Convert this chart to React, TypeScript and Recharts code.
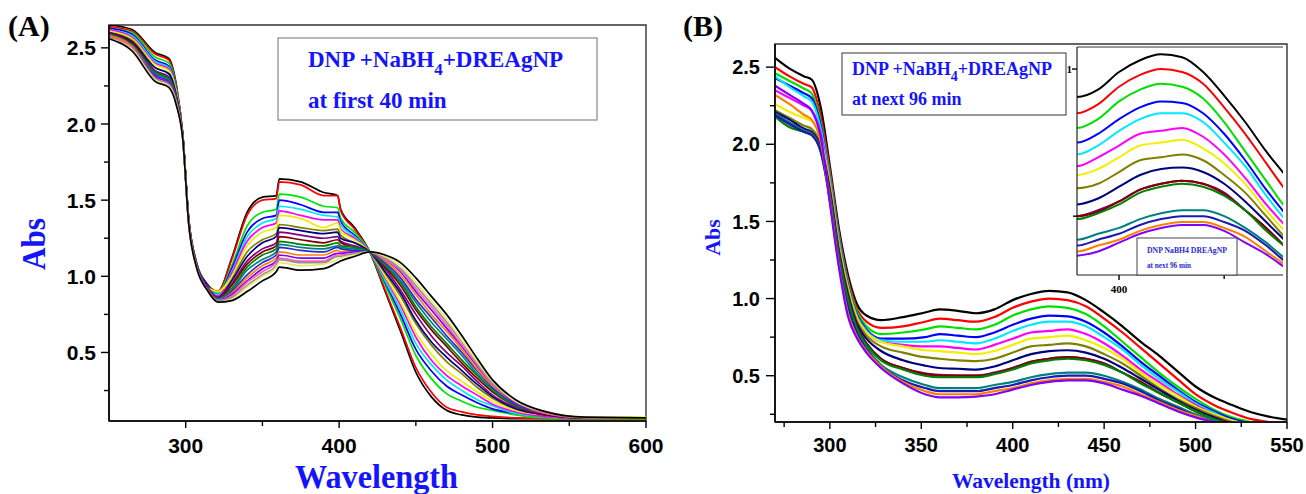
import { LineChart, Line, XAxis, YAxis, ReferenceArea, ReferenceLine } from 'recharts';

// ---------- Panel A: first 40 min ----------
const WAVELENGTH_A = [250, 265, 280, 289, 294, 298, 302, 307, 314, 321, 330, 340, 350, 359, 361, 375, 390, 399, 401, 410, 420, 430, 440, 450, 460, 470, 480, 490, 500, 515, 535, 560, 600];

const A_T01 = [2.65, 2.62, 2.47, 2.43, 2.25, 1.94, 1.37, 1.09, 0.95, 0.90, 1.12, 1.42, 1.52, 1.53, 1.64, 1.62, 1.55, 1.53, 1.44, 1.32, 1.16, 0.90, 0.64, 0.37, 0.21, 0.12, 0.09, 0.075, 0.07, 0.065, 0.065, 0.065, 0.065];
const A_T02 = [2.64, 2.61, 2.46, 2.42, 2.24, 1.94, 1.37, 1.09, 0.94, 0.90, 1.11, 1.40, 1.50, 1.51, 1.62, 1.60, 1.53, 1.53, 1.43, 1.31, 1.16, 0.91, 0.66, 0.40, 0.24, 0.14, 0.11, 0.09, 0.08, 0.07, 0.067, 0.065, 0.065];
const A_T03 = [2.63, 2.60, 2.44, 2.40, 2.23, 1.94, 1.37, 1.09, 0.94, 0.89, 1.07, 1.33, 1.42, 1.44, 1.54, 1.52, 1.46, 1.45, 1.38, 1.29, 1.16, 0.94, 0.72, 0.48, 0.33, 0.23, 0.18, 0.14, 0.12, 0.09, 0.07, 0.067, 0.066];
const A_T04 = [2.63, 2.59, 2.42, 2.38, 2.22, 1.94, 1.37, 1.09, 0.94, 0.88, 1.05, 1.29, 1.38, 1.40, 1.50, 1.47, 1.42, 1.42, 1.36, 1.27, 1.16, 0.96, 0.75, 0.52, 0.38, 0.28, 0.22, 0.17, 0.13, 0.10, 0.08, 0.07, 0.07];
const A_T05 = [2.62, 2.58, 2.41, 2.37, 2.21, 1.93, 1.36, 1.08, 0.93, 0.88, 1.03, 1.26, 1.35, 1.38, 1.46, 1.44, 1.40, 1.39, 1.34, 1.26, 1.16, 0.97, 0.78, 0.56, 0.42, 0.32, 0.25, 0.19, 0.15, 0.10, 0.08, 0.07, 0.07];
const A_T06 = [2.62, 2.57, 2.40, 2.36, 2.20, 1.93, 1.36, 1.08, 0.93, 0.87, 1.02, 1.23, 1.32, 1.35, 1.43, 1.40, 1.37, 1.37, 1.31, 1.25, 1.16, 0.99, 0.81, 0.60, 0.45, 0.35, 0.28, 0.22, 0.16, 0.11, 0.08, 0.07, 0.07];
const A_T07 = [2.61, 2.56, 2.39, 2.35, 2.20, 1.93, 1.36, 1.08, 0.93, 0.90, 1.00, 1.20, 1.29, 1.32, 1.40, 1.38, 1.32, 1.35, 1.30, 1.24, 1.16, 1.00, 0.83, 0.63, 0.49, 0.38, 0.31, 0.24, 0.18, 0.12, 0.09, 0.075, 0.075];
const A_T08 = [2.60, 2.55, 2.37, 2.33, 2.18, 1.93, 1.36, 1.08, 0.93, 0.86, 0.98, 1.16, 1.24, 1.28, 1.34, 1.32, 1.30, 1.31, 1.27, 1.22, 1.16, 1.02, 0.87, 0.69, 0.55, 0.44, 0.36, 0.27, 0.20, 0.13, 0.09, 0.07, 0.07];
const A_T09 = [2.60, 2.54, 2.37, 2.33, 2.18, 1.93, 1.36, 1.08, 0.93, 0.86, 0.97, 1.13, 1.22, 1.26, 1.32, 1.30, 1.28, 1.29, 1.25, 1.22, 1.16, 1.03, 0.89, 0.71, 0.57, 0.47, 0.38, 0.29, 0.21, 0.13, 0.09, 0.07, 0.07];
const A_T10 = [2.60, 2.53, 2.35, 2.31, 2.17, 1.93, 1.36, 1.08, 0.93, 0.86, 0.95, 1.10, 1.18, 1.22, 1.29, 1.27, 1.25, 1.26, 1.23, 1.20, 1.16, 1.05, 0.91, 0.75, 0.61, 0.50, 0.41, 0.31, 0.22, 0.14, 0.09, 0.07, 0.07];
const A_T11 = [2.59, 2.53, 2.34, 2.30, 2.16, 1.92, 1.35, 1.07, 0.92, 0.85, 0.94, 1.08, 1.16, 1.20, 1.26, 1.24, 1.22, 1.24, 1.22, 1.19, 1.16, 1.06, 0.94, 0.78, 0.65, 0.54, 0.43, 0.33, 0.24, 0.15, 0.09, 0.07, 0.07];
const A_T12 = [2.59, 2.52, 2.34, 2.30, 2.16, 1.92, 1.35, 1.07, 0.92, 0.85, 0.92, 1.06, 1.14, 1.18, 1.23, 1.21, 1.20, 1.22, 1.20, 1.19, 1.16, 1.07, 0.96, 0.80, 0.67, 0.56, 0.45, 0.35, 0.25, 0.15, 0.10, 0.072, 0.07];
const A_T13 = [2.58, 2.52, 2.33, 2.29, 2.15, 1.92, 1.35, 1.07, 0.92, 0.85, 0.91, 1.04, 1.11, 1.16, 1.21, 1.19, 1.18, 1.20, 1.19, 1.18, 1.16, 1.08, 0.97, 0.83, 0.70, 0.59, 0.48, 0.36, 0.26, 0.16, 0.10, 0.072, 0.07];
const A_T14 = [2.58, 2.51, 2.32, 2.28, 2.15, 1.92, 1.35, 1.07, 0.92, 0.84, 0.90, 1.01, 1.09, 1.14, 1.19, 1.17, 1.16, 1.19, 1.18, 1.17, 1.16, 1.09, 0.99, 0.85, 0.73, 0.61, 0.50, 0.38, 0.27, 0.16, 0.10, 0.073, 0.07];
const A_T15 = [2.58, 2.51, 2.31, 2.27, 2.14, 1.92, 1.35, 1.07, 0.92, 0.84, 0.89, 0.99, 1.07, 1.12, 1.16, 1.14, 1.14, 1.17, 1.16, 1.16, 1.16, 1.10, 1.01, 0.88, 0.75, 0.64, 0.52, 0.39, 0.28, 0.17, 0.10, 0.073, 0.07];
const A_T16 = [2.57, 2.50, 2.31, 2.27, 2.14, 1.92, 1.35, 1.07, 0.92, 0.84, 0.88, 0.97, 1.05, 1.10, 1.14, 1.12, 1.12, 1.15, 1.15, 1.16, 1.16, 1.11, 1.03, 0.90, 0.78, 0.66, 0.54, 0.41, 0.29, 0.17, 0.10, 0.074, 0.07];
const A_T17 = [2.57, 2.50, 2.30, 2.26, 2.13, 1.91, 1.34, 1.06, 0.91, 0.84, 0.87, 0.96, 1.03, 1.09, 1.12, 1.10, 1.10, 1.14, 1.14, 1.15, 1.16, 1.11, 1.04, 0.92, 0.80, 0.68, 0.55, 0.42, 0.29, 0.18, 0.10, 0.074, 0.07];
const A_T18 = [2.57, 2.49, 2.30, 2.26, 2.13, 1.91, 1.34, 1.06, 0.91, 0.84, 0.86, 0.94, 1.01, 1.07, 1.11, 1.09, 1.09, 1.13, 1.13, 1.15, 1.16, 1.12, 1.05, 0.94, 0.82, 0.70, 0.57, 0.43, 0.30, 0.18, 0.11, 0.074, 0.07];
const A_T19 = [2.56, 2.49, 2.29, 2.25, 2.13, 1.91, 1.34, 1.06, 0.91, 0.83, 0.85, 0.93, 1.00, 1.06, 1.09, 1.07, 1.08, 1.11, 1.12, 1.14, 1.16, 1.13, 1.07, 0.96, 0.84, 0.72, 0.58, 0.44, 0.31, 0.18, 0.11, 0.075, 0.07];
const A_T20 = [2.56, 2.48, 2.28, 2.24, 2.12, 1.91, 1.34, 1.06, 0.91, 0.83, 0.84, 0.90, 0.97, 1.03, 1.06, 1.04, 1.05, 1.09, 1.10, 1.13, 1.16, 1.14, 1.09, 0.99, 0.87, 0.75, 0.61, 0.46, 0.32, 0.19, 0.11, 0.075, 0.07];

const SERIES_A = [
  { key: 'a01', color: '#000000', values: A_T01 },
  { key: 'a02', color: '#ff0000', values: A_T02 },
  { key: 'a03', color: '#00e600', values: A_T03 },
  { key: 'a04', color: '#0000ff', values: A_T04 },
  { key: 'a05', color: '#00e8f0', values: A_T05 },
  { key: 'a06', color: '#ff00ff', values: A_T06 },
  { key: 'a07', color: '#eeee00', values: A_T07 },
  { key: 'a08', color: '#808000', values: A_T08 },
  { key: 'a09', color: '#000080', values: A_T09 },
  { key: 'a10', color: '#800080', values: A_T10 },
  { key: 'a11', color: '#800000', values: A_T11 },
  { key: 'a12', color: '#008000', values: A_T12 },
  { key: 'a13', color: '#008080', values: A_T13 },
  { key: 'a14', color: '#2a2ad0', values: A_T14 },
  { key: 'a15', color: '#ff8000', values: A_T15 },
  { key: 'a16', color: '#8000ff', values: A_T16 },
  { key: 'a17', color: '#ff60b0', values: A_T17 },
  { key: 'a18', color: '#909090', values: A_T18 },
  { key: 'a19', color: '#e8e870', values: A_T19 },
  { key: 'a20', color: '#000000', values: A_T20 },
];

// ---------- Panel B: next 96 min ----------
const WAVELENGTH_B = [270, 278, 286, 290, 295, 300, 305, 310, 315, 320, 328, 340, 352, 360, 370, 380, 390, 400, 410, 420, 430, 440, 450, 460, 470, 480, 490, 500, 510, 520, 530, 540, 550];

const B_T01 = [2.56, 2.49, 2.44, 2.42, 2.24, 1.86, 1.45, 1.15, 0.96, 0.89, 0.86, 0.88, 0.91, 0.93, 0.92, 0.905, 0.93, 0.99, 1.03, 1.05, 1.04, 0.99, 0.91, 0.82, 0.72, 0.63, 0.53, 0.43, 0.36, 0.31, 0.265, 0.235, 0.215];
const B_T02 = [2.50, 2.44, 2.39, 2.37, 2.18, 1.83, 1.42, 1.12, 0.93, 0.85, 0.81, 0.82, 0.85, 0.87, 0.86, 0.85, 0.88, 0.94, 0.98, 1.00, 0.99, 0.95, 0.87, 0.78, 0.68, 0.58, 0.48, 0.38, 0.31, 0.26, 0.22, 0.20, 0.18];
const B_T03 = [2.46, 2.41, 2.36, 2.33, 2.14, 1.80, 1.40, 1.10, 0.91, 0.82, 0.77, 0.78, 0.80, 0.82, 0.81, 0.80, 0.83, 0.89, 0.93, 0.95, 0.94, 0.90, 0.82, 0.72, 0.62, 0.52, 0.43, 0.35, 0.28, 0.23, 0.20, 0.18, 0.17];
const B_T04 = [2.43, 2.38, 2.33, 2.30, 2.12, 1.78, 1.38, 1.08, 0.89, 0.80, 0.74, 0.74, 0.75, 0.77, 0.76, 0.75, 0.78, 0.83, 0.87, 0.89, 0.885, 0.85, 0.78, 0.69, 0.59, 0.50, 0.41, 0.33, 0.27, 0.22, 0.19, 0.17, 0.16];
const B_T05 = [2.44, 2.37, 2.31, 2.28, 2.10, 1.77, 1.37, 1.07, 0.88, 0.79, 0.73, 0.72, 0.72, 0.73, 0.72, 0.71, 0.74, 0.79, 0.83, 0.85, 0.85, 0.82, 0.75, 0.67, 0.57, 0.48, 0.40, 0.32, 0.26, 0.21, 0.19, 0.17, 0.16];
const B_T06 = [2.35, 2.30, 2.25, 2.22, 2.07, 1.75, 1.35, 1.06, 0.87, 0.78, 0.72, 0.70, 0.69, 0.69, 0.68, 0.67, 0.70, 0.74, 0.78, 0.79, 0.80, 0.77, 0.71, 0.63, 0.54, 0.46, 0.38, 0.31, 0.25, 0.21, 0.18, 0.17, 0.15];
const B_T07 = [2.26, 2.21, 2.17, 2.15, 2.03, 1.74, 1.34, 1.06, 0.87, 0.78, 0.72, 0.69, 0.665, 0.66, 0.65, 0.64, 0.66, 0.70, 0.74, 0.75, 0.76, 0.73, 0.68, 0.61, 0.52, 0.44, 0.37, 0.30, 0.25, 0.21, 0.18, 0.16, 0.15];
const B_T08 = [2.22, 2.17, 2.12, 2.10, 2.00, 1.72, 1.32, 1.04, 0.85, 0.76, 0.69, 0.65, 0.62, 0.61, 0.60, 0.595, 0.61, 0.65, 0.69, 0.70, 0.71, 0.69, 0.64, 0.58, 0.50, 0.42, 0.35, 0.29, 0.24, 0.20, 0.17, 0.16, 0.15];
const B_T09 = [2.21, 2.16, 2.10, 2.08, 1.98, 1.70, 1.30, 1.02, 0.83, 0.74, 0.66, 0.60, 0.565, 0.55, 0.545, 0.54, 0.56, 0.60, 0.64, 0.66, 0.665, 0.65, 0.61, 0.55, 0.48, 0.41, 0.34, 0.28, 0.23, 0.19, 0.17, 0.15, 0.14];
const B_T10 = [2.20, 2.14, 2.09, 2.07, 1.97, 1.68, 1.28, 1.00, 0.81, 0.71, 0.61, 0.55, 0.515, 0.505, 0.50, 0.50, 0.52, 0.55, 0.59, 0.61, 0.62, 0.61, 0.58, 0.52, 0.46, 0.39, 0.33, 0.27, 0.22, 0.19, 0.16, 0.15, 0.14];
const B_T11 = [2.19, 2.13, 2.09, 2.07, 1.97, 1.68, 1.28, 1.00, 0.81, 0.71, 0.61, 0.55, 0.51, 0.50, 0.50, 0.50, 0.515, 0.55, 0.59, 0.61, 0.62, 0.61, 0.575, 0.52, 0.46, 0.39, 0.33, 0.27, 0.22, 0.19, 0.16, 0.15, 0.14];
const B_T12 = [2.18, 2.11, 2.08, 2.06, 1.96, 1.67, 1.27, 0.99, 0.80, 0.70, 0.60, 0.54, 0.50, 0.49, 0.49, 0.49, 0.51, 0.54, 0.58, 0.60, 0.61, 0.60, 0.57, 0.52, 0.45, 0.39, 0.33, 0.27, 0.22, 0.18, 0.16, 0.15, 0.14];
const B_T13 = [2.20, 2.14, 2.09, 2.07, 1.96, 1.65, 1.24, 0.95, 0.78, 0.68, 0.57, 0.49, 0.44, 0.42, 0.42, 0.42, 0.44, 0.46, 0.49, 0.51, 0.52, 0.52, 0.50, 0.46, 0.41, 0.35, 0.30, 0.25, 0.21, 0.18, 0.16, 0.14, 0.13];
const B_T14 = [2.19, 2.13, 2.08, 2.06, 1.95, 1.64, 1.23, 0.94, 0.77, 0.67, 0.56, 0.47, 0.42, 0.40, 0.40, 0.40, 0.42, 0.44, 0.47, 0.49, 0.50, 0.50, 0.48, 0.45, 0.40, 0.34, 0.29, 0.24, 0.20, 0.17, 0.15, 0.14, 0.13];
const B_T15 = [2.32, 2.26, 2.19, 2.16, 2.02, 1.63, 1.21, 0.90, 0.75, 0.66, 0.56, 0.46, 0.40, 0.38, 0.38, 0.38, 0.40, 0.42, 0.45, 0.47, 0.48, 0.48, 0.46, 0.43, 0.38, 0.33, 0.28, 0.24, 0.20, 0.17, 0.15, 0.14, 0.13];
const B_T16 = [2.38, 2.32, 2.26, 2.22, 2.05, 1.62, 1.20, 0.88, 0.74, 0.65, 0.55, 0.45, 0.38, 0.36, 0.36, 0.365, 0.38, 0.41, 0.44, 0.46, 0.47, 0.47, 0.45, 0.41, 0.37, 0.32, 0.27, 0.23, 0.20, 0.17, 0.15, 0.14, 0.13];

const SERIES_B = [
  { key: 'b01', color: '#000000', values: B_T01 },
  { key: 'b02', color: '#ff0000', values: B_T02 },
  { key: 'b03', color: '#00e000', values: B_T03 },
  { key: 'b04', color: '#0000ff', values: B_T04 },
  { key: 'b05', color: '#00e8ff', values: B_T05 },
  { key: 'b06', color: '#ff00ff', values: B_T06 },
  { key: 'b07', color: '#f0f000', values: B_T07 },
  { key: 'b08', color: '#808000', values: B_T08 },
  { key: 'b09', color: '#000080', values: B_T09 },
  { key: 'b10', color: '#800080', values: B_T10 },
  { key: 'b11', color: '#800000', values: B_T11 },
  { key: 'b12', color: '#008000', values: B_T12 },
  { key: 'b13', color: '#008080', values: B_T13 },
  { key: 'b14', color: '#1a1ab0', values: B_T14 },
  { key: 'b15', color: '#ff8000', values: B_T15 },
  { key: 'b16', color: '#8000ff', values: B_T16 },
];

// axis settings
const A_X_DOMAIN = [250, 600];
const A_Y_DOMAIN = [0.05, 2.65];
const A_X_TICKS = [300, 350, 400, 450, 500, 550, 600];
const A_X_MAJOR = [300, 400, 500, 600];
const Y_TICKS = [0.25, 0.5, 0.75, 1, 1.25, 1.5, 1.75, 2, 2.25, 2.5];
const Y_MAJOR = [0.5, 1, 1.5, 2, 2.5];

const B_X_DOMAIN = [270, 550];
const B_Y_DOMAIN = [0.2, 2.65];
const B_X_TICKS = [275, 300, 325, 350, 375, 400, 425, 450, 475, 500, 525, 550];
const B_X_MAJOR = [300, 350, 400, 450, 500, 550];

const INSET_X_DOMAIN = [380, 478];
const INSET_Y_DOMAIN = [0.3, 1.075];
const INSET_X_TICKS = [400, 450];
const INSET_Y_TICKS = [0.5, 1];

const SANS = '"Liberation Sans", Arial, sans-serif';
const SERIF = '"Liberation Serif", "Times New Roman", serif';
const BLUE = '#1414ff';

const toRows = (ws: number[], series: { key: string; values: number[] }[]) =>
  ws.map((w, i) => {
    const row: Record<string, number> = { w };
    series.forEach((s) => {
      row[s.key] = s.values[i];
    });
    return row;
  });

const rowsA = toRows(WAVELENGTH_A, SERIES_A);
const rowsB = toRows(WAVELENGTH_B, SERIES_B);

type TickOpts = {
  majors: number[];
  fmt: (v: number) => string;
  font: number;
  major: number;
  minor: number;
  gap: number;
  family?: string;
};

const isIn = (list: number[], v: number) => list.some((m) => Math.abs(m - v) < 1e-6);

const leftTick = (o: TickOpts) => (props: any) => {
  const { x, y, payload } = props;
  const v = payload.value as number;
  const major = isIn(o.majors, v);
  const len = major ? o.major : o.minor;
  return (
    <g>
      <line x1={x - len} x2={x} y1={y} y2={y} stroke="#000" strokeWidth={1.4} />
      {major && (
        <text x={x - o.gap} y={y} dy="0.36em" textAnchor="end" fontSize={o.font} fontWeight={700} fontFamily={o.family ?? SANS} fill="#000">
          {o.fmt(v)}
        </text>
      )}
    </g>
  );
};

const bottomTick = (o: TickOpts) => (props: any) => {
  const { x, y, payload } = props;
  const v = payload.value as number;
  const major = isIn(o.majors, v);
  const len = major ? o.major : o.minor;
  return (
    <g>
      <line x1={x} x2={x} y1={y} y2={y + len} stroke="#000" strokeWidth={1.4} />
      {major && (
        <text x={x} y={y + o.gap} textAnchor="middle" fontSize={o.font} fontWeight={700} fontFamily={o.family ?? SANS} fill="#000">
          {o.fmt(v)}
        </text>
      )}
    </g>
  );
};

const fmt1 = (v: number) => v.toFixed(1);
const fmtInt = (v: number) => String(v);

const PanelA = () => (
  <LineChart width={680} height={494} data={rowsA} margin={{ top: 25, right: 34, bottom: 0, left: 0 }}>
    <XAxis
      dataKey="w"
      type="number"
      domain={A_X_DOMAIN}
      allowDataOverflow
      ticks={A_X_TICKS}
      interval={0}
      height={73}
      tickSize={0}
      tickMargin={0}
      tickLine={false}
      axisLine={{ stroke: '#000', strokeWidth: 1.6 }}
      tick={bottomTick({ majors: A_X_MAJOR, fmt: fmtInt, font: 21, major: 7, minor: 5, gap: 32 })}
    />
    <YAxis
      type="number"
      domain={A_Y_DOMAIN}
      allowDataOverflow
      ticks={Y_TICKS}
      interval={0}
      width={109}
      tickSize={0}
      tickMargin={0}
      tickLine={false}
      axisLine={{ stroke: '#000', strokeWidth: 1.6 }}
      tick={leftTick({ majors: Y_MAJOR, fmt: fmt1, font: 21, major: 8, minor: 5, gap: 13 })}
    />
    <ReferenceArea x1={A_X_DOMAIN[0]} x2={A_X_DOMAIN[1]} y1={A_Y_DOMAIN[0]} y2={A_Y_DOMAIN[1]} fill="none" stroke="#333" strokeWidth={1.4} />
    {SERIES_A.map((s) => (
      <Line key={s.key} dataKey={s.key} type="monotone" stroke={s.color} strokeWidth={1.7} dot={false} activeDot={false} isAnimationActive={false} />
    ))}
  </LineChart>
);

const PanelB = () => (
  <LineChart width={646} height={494} data={rowsB} margin={{ top: 44, right: 19, bottom: 0, left: 0 }}>
    <XAxis
      dataKey="w"
      type="number"
      domain={B_X_DOMAIN}
      allowDataOverflow
      ticks={B_X_TICKS}
      interval={0}
      height={72}
      tickSize={0}
      tickMargin={0}
      tickLine={false}
      axisLine={{ stroke: '#000', strokeWidth: 1.6 }}
      tick={bottomTick({ majors: B_X_MAJOR, fmt: fmtInt, font: 20, major: 7, minor: 5, gap: 30 })}
    />
    <YAxis
      type="number"
      domain={B_Y_DOMAIN}
      allowDataOverflow
      ticks={Y_TICKS}
      interval={0}
      width={115}
      tickSize={0}
      tickMargin={0}
      tickLine={false}
      axisLine={{ stroke: '#000', strokeWidth: 1.6 }}
      tick={leftTick({ majors: Y_MAJOR, fmt: fmt1, font: 20, major: 9, minor: 5, gap: 15 })}
    />
    <ReferenceArea x1={B_X_DOMAIN[0]} x2={B_X_DOMAIN[1]} y1={B_Y_DOMAIN[0]} y2={B_Y_DOMAIN[1]} fill="none" stroke="#333" strokeWidth={1.4} />
    {SERIES_B.map((s) => (
      <Line key={s.key} dataKey={s.key} type="monotone" stroke={s.color} strokeWidth={2.2} dot={false} activeDot={false} isAnimationActive={false} />
    ))}
  </LineChart>
);

const InsetB = () => (
  <LineChart width={250} height={300} data={rowsB} margin={{ top: 47, right: 7, bottom: 0, left: 0 }}>
    <XAxis
      dataKey="w"
      type="number"
      domain={INSET_X_DOMAIN}
      allowDataOverflow
      ticks={INSET_X_TICKS}
      interval={0}
      height={25}
      tickSize={0}
      tickMargin={0}
      tickLine={false}
      axisLine={{ stroke: '#222', strokeWidth: 1.2 }}
      tick={bottomTick({ majors: [400], fmt: fmtInt, font: 11, major: 5, minor: 4, gap: 18, family: SERIF })}
    />
    <YAxis
      type="number"
      domain={INSET_Y_DOMAIN}
      allowDataOverflow
      ticks={INSET_Y_TICKS}
      interval={0}
      width={37}
      tickSize={0}
      tickMargin={0}
      tickLine={false}
      axisLine={{ stroke: '#222', strokeWidth: 1.2 }}
      tick={leftTick({ majors: [1], fmt: fmtInt, font: 11, major: 5, minor: 4, gap: 5, family: SERIF })}
    />
    <ReferenceLine y={INSET_Y_DOMAIN[1]} stroke="#333" strokeWidth={1.2} />
    {SERIES_B.map((s) => (
      <Line key={s.key} dataKey={s.key} type="monotone" stroke={s.color} strokeWidth={2} dot={false} activeDot={false} isAnimationActive={false} />
    ))}
  </LineChart>
);

const Labels = () => (
  <svg width={1306} height={494} style={{ position: 'absolute', left: 0, top: 0, pointerEvents: 'none' }}>
    <g fontFamily={SERIF} fontWeight={700}>
      <text x={8} y={36} fontSize={30} fill="#000">(A)</text>
      <text x={683} y={36} fontSize={30} fill="#000">(B)</text>

      <text transform="translate(45,244) rotate(-90)" textAnchor="middle" fontSize={34} fill={BLUE} textLength={52} lengthAdjust="spacingAndGlyphs">Abs</text>
      <text x={376.5} y={488} textAnchor="middle" fontSize={34} fill={BLUE} textLength={163} lengthAdjust="spacingAndGlyphs">Wavelength</text>

      <text transform="translate(720,237.5) rotate(-90)" textAnchor="middle" fontSize={22} fill={BLUE}>Abs</text>
      <text x={1031} y={488} textAnchor="middle" fontSize={22} fill={BLUE} textLength={158} lengthAdjust="spacingAndGlyphs">Wavelength (nm)</text>

      <rect x={278} y={38} width={319} height={82} fill="#fff" stroke="#888" strokeWidth={1.2} />
      <text x={308} y={67} fontSize={23} fill={BLUE}>
        DNP +NaBH<tspan dy={8} fontSize={17}>4</tspan><tspan dy={-8}>+DREAgNP</tspan>
      </text>
      <text x={308} y={108} fontSize={23} fill={BLUE}>at first 40 min</text>

      <rect x={842} y={53} width={224} height={62} fill="#fff" stroke="#555" strokeWidth={1.2} />
      <text x={852} y={75} fontSize={18} fill={BLUE}>
        DNP +NaBH<tspan dy={6} fontSize={14}>4</tspan><tspan dy={-6}>+DREAgNP</tspan>
      </text>
      <text x={852} y={105} fontSize={18} fill={BLUE}>at next 96 min</text>
    </g>
    <rect x={1137} y={238} width={100} height={37} fill="#fff" stroke="#444" strokeWidth={1} />
    <g fontFamily={SERIF} fill="#2a2ad8" fontWeight={700}>
      <text x={1147} y={253} fontSize={9} textLength={80} lengthAdjust="spacingAndGlyphs">DNP  NaBH4 DREAgNP</text>
      <text x={1147} y={268} fontSize={9} textLength={44} lengthAdjust="spacingAndGlyphs">at next 96 min</text>
    </g>
  </svg>
);

export default function App() {
  return (
    <div style={{ position: 'absolute', left: 0, top: 0, width: 1306, height: 494, overflow: 'hidden', background: '#fff' }}>
      <div style={{ position: 'absolute', left: 0, top: 0 }}>
        <PanelA />
      </div>
      <div style={{ position: 'absolute', left: 660, top: 0 }}>
        <PanelB />
      </div>
      <div style={{ position: 'absolute', left: 1040, top: 0 }}>
        <InsetB />
      </div>
      <Labels />
    </div>
  );
}
